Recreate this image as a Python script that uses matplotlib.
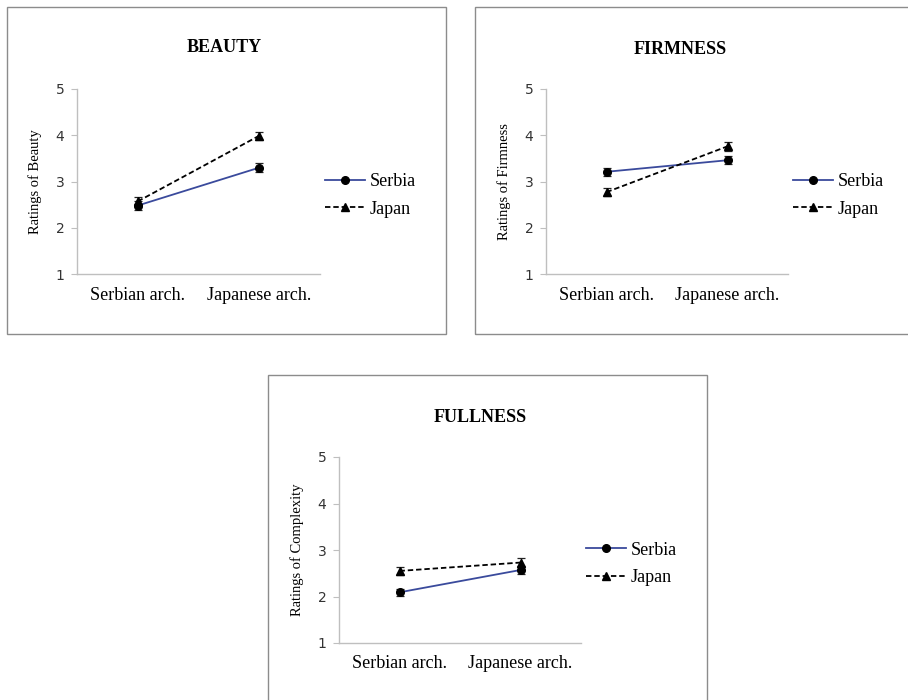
import matplotlib.pyplot as plt
from matplotlib.patches import Rectangle

W, H = 908, 700

categories = ["Serbian arch.", "Japanese arch."]
groups = ["Serbia", "Japan"]

beauty_serbia = [2.48, 3.30]
beauty_japan = [2.57, 3.99]
beauty_err_serbia = [0.09, 0.09]
beauty_err_japan = [0.10, 0.09]

firmness_serbia = [3.21, 3.46]
firmness_japan = [2.77, 3.76]
firmness_err_serbia = [0.09, 0.09]
firmness_err_japan = [0.09, 0.09]

fullness_serbia = [2.09, 2.57]
fullness_japan = [2.55, 2.73]
fullness_err_serbia = [0.08, 0.09]
fullness_err_japan = [0.09, 0.10]

titles = ["BEAUTY", "FIRMNESS", "FULLNESS"]
ylabels = ["Ratings of Beauty", "Ratings of Firmness", "Ratings of Complexity"]

blue = "#3a4a9c"
serif = "Liberation Serif"

fig = plt.figure(figsize=(W / 100, H / 100), dpi=100)


def px_axes(left, right, top, bottom):
    return fig.add_axes([left / W, 1 - bottom / H, (right - left) / W, (bottom - top) / H])


def frame(x0, y0, x1, y1):
    fig.patches.append(Rectangle((x0 / W, 1 - y1 / H), (x1 - x0) / W, (y1 - y0) / H,
                                 transform=fig.transFigure, fill=False,
                                 edgecolor="#8c8c8c", linewidth=1.0))


def panel(ax, serbia, japan, es, ej, ylabel):
    x = [0, 1]
    ax.errorbar(x, serbia, yerr=es, fmt="none", ecolor="#222222", elinewidth=0.9, capsize=3, capthick=0.9)
    ax.errorbar(x, japan, yerr=ej, fmt="none", ecolor="#222222", elinewidth=0.9, capsize=3, capthick=0.9)
    ax.plot(x, serbia, color=blue, lw=1.3, marker="o", ms=5.5, mfc="black", mec="black", label=groups[0])
    ax.plot(x, japan, color="black", lw=1.3, ls=(0, (3, 1.6)), marker="^", ms=5.5,
            mfc="black", mec="black", label=groups[1])
    ax.set_xlim(-0.5, 1.5)
    ax.set_ylim(1, 5)
    ax.set_yticks([1, 2, 3, 4, 5])
    ax.set_xticks(x)
    ax.set_xticklabels(categories, fontfamily=serif, fontsize=13)
    for s in ["top", "right"]:
        ax.spines[s].set_visible(False)
    for s in ["left", "bottom"]:
        ax.spines[s].set_color("#bfbfbf")
        ax.spines[s].set_linewidth(1.0)
    ax.tick_params(axis="y", length=4, color="#bfbfbf", labelsize=10, pad=5, labelcolor="#333333")
    ax.tick_params(axis="x", length=0, pad=9)
    ax.set_ylabel(ylabel, fontfamily=serif, fontsize=10.5, labelpad=10)
    ax.legend(loc="center left", bbox_to_anchor=(1.02, 0.425), frameon=False, numpoints=1,
              prop={"family": serif, "size": 13}, handlelength=2.2, handletextpad=0.3,
              labelspacing=0.6, borderpad=0, borderaxespad=0)


frame(7, 7, 446, 334)
frame(475, 7, 915, 334)
frame(268, 375, 707, 710)

ax1 = px_axes(77, 320, 89, 274)
panel(ax1, beauty_serbia, beauty_japan, beauty_err_serbia, beauty_err_japan, ylabels[0])
ax2 = px_axes(546, 788, 89, 274)
panel(ax2, firmness_serbia, firmness_japan, firmness_err_serbia, firmness_err_japan, ylabels[1])
ax3 = px_axes(339, 581, 457, 643)
panel(ax3, fullness_serbia, fullness_japan, fullness_err_serbia, fullness_err_japan, ylabels[2])

for t, (cx, cy) in zip(titles, [(224, 48), (680, 49), (480, 417)]):
    fig.text(cx / W, 1 - cy / H, t, ha="center", va="center", fontfamily=serif,
             fontweight="bold", fontsize=13)

fig.savefig("out.png", dpi=100)
